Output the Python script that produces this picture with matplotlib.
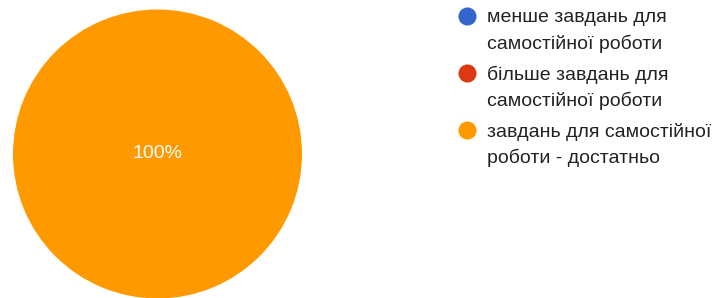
import matplotlib.pyplot as plt

plt.rcParams['font.family'] = ['Liberation Sans', 'DejaVu Sans']

# data
labels = ['менше завдань для\nсамостійної роботи',
          'більше завдань для\nсамостійної роботи',
          'завдань для самостійної\nроботи - достатньо']
values = [0, 0, 100]
colors = ['#3366cc', '#dc3912', '#ff9900']

W, H = 721, 298
fig = plt.figure(figsize=(W / 100, H / 100), dpi=100)

# pie: centre (157.5, 154) px, radius 144 px
cx, cy, r = 157.5, 154, 144.5
ax = fig.add_axes([(cx - r) / W, (H - cy - r) / H, 2 * r / W, 2 * r / H])
ax.pie(values, colors=colors, startangle=90, counterclock=False,
       autopct=lambda p: f'{p:.0f}%' if p > 0 else '', pctdistance=0,
       textprops={'color': 'white', 'fontsize': 14},
       wedgeprops={'linewidth': 0})
ax.set_xlim(-1, 1)
ax.set_ylim(-1, 1)
ax.set_aspect('auto')

# legend drawn in pixel coordinates
lg = fig.add_axes([0, 0, 1, 1])
lg.set_xlim(0, W)
lg.set_ylim(H, 0)
lg.axis('off')
for i, (lab, c) in enumerate(zip(labels, colors)):
    y0 = 16 + 57 * i
    lg.scatter([467], [y0], s=170, color=c, linewidths=0)
    for j, line in enumerate(lab.split('\n')):
        lg.text(487, y0 + 26 * j, line, fontsize=14, color='#222222',
                va='center_baseline', ha='left')

fig.savefig('out.png', dpi=100)
